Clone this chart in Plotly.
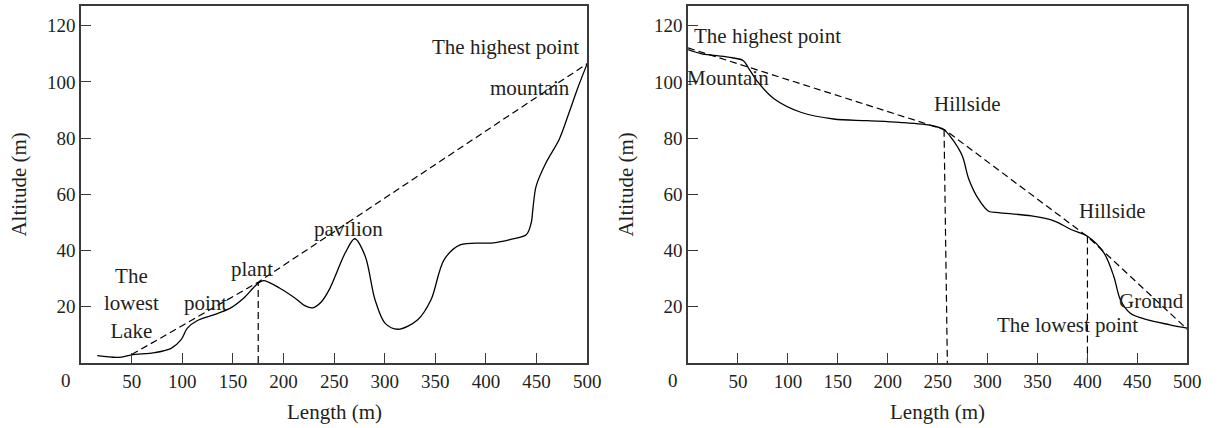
import plotly.graph_objects as go

# ---------------- data ----------------
# Left profile (lake -> mountain)
left_x = [16, 37, 50, 73, 89, 98.7, 105, 115, 131, 147.5, 160.5, 173.5, 180, 196, 212.5, 221, 228.7,
          237, 245, 261, 270.3, 280.7, 290.4, 300.2, 313, 332.6, 345.7, 358.7, 375, 407.4, 423.7, 440,
          444.7, 446.4, 449.6, 459.4, 472.4, 482.2, 490.3, 500]
left_y = [2.6, 2.0, 2.9, 3.7, 5.2, 8.2, 12.4, 15.1, 17.1, 19.5, 23, 27.9, 29.3, 26.7, 22.8, 20.4, 19.6,
          21.6, 26, 39.2, 44.2, 38, 22.5, 14.2, 12.0, 15.4, 22.5, 36.8, 42.1, 42.7, 43.9, 45.7,
          49.9, 55, 63, 71.3, 79.6, 89.2, 97.5, 106.5]
left_dash_x = [50, 176, 500]
left_dash_y = [3, 29, 106.5]
left_vert_x = [175, 175]
left_vert_y = [0, 28.7]

# Right profile (mountain -> ground)
right_x = [0, 13.9, 40.3, 55.1, 60.1, 70, 86.4, 112.9, 145.8, 178.9, 211.9, 244.9, 256.4, 264.7,
           274.6, 281.2, 291.1, 301, 310.9, 343.9, 367, 383.5, 400, 416.5, 426.4, 433, 442.9,
           459.4, 482.5, 500]
right_y = [111.5, 110, 108.8, 107.6, 105.2, 99.9, 93.9, 89.2, 86.8, 86.2, 85.6, 84.4, 83, 79.6,
           73.7, 65.4, 58.2, 54, 53.5, 52.3, 50.5, 47.5, 45.1, 39.2, 30.8, 22.5, 17.7,
           15.4, 13.6, 12.4]
right_dash_x = [0, 257, 400, 500]
right_dash_y = [112.1, 83, 45, 12]
right_vert1_x = [256.4, 259.7]
right_vert1_y = [83, 0]
right_vert2_x = [400, 400]
right_vert2_y = [45, 0]

x_ticks = [50, 100, 150, 200, 250, 300, 350, 400, 450, 500]
y_ticks = [20, 40, 60, 80, 100, 120]

left_labels = [("The<br>lowest<br>Lake", 50, 21.3), ("point", 123, 21.3), ("plant", 168.6, 33.6),
               ("pavilion", 264.4, 47.7), ("The highest point", 418.8, 112.4),
               ("mountain", 443.2, 97.7)]
right_labels = [("The highest point", 79.3, 116.5), ("Mountain", 39.9, 101.4),
                ("Hillside", 279.6, 92.1), ("Hillside", 424.8, 54.0),
                ("Ground", 464.4, 21.9), ("The lowest point", 380.2, 13.6)]

# ---------------- figure ----------------
FONT = "Liberation Serif"
TXT = "#231f20"
LBL = 21
fig = go.Figure()

solid = dict(color="black", width=1.3, shape="spline", smoothing=0.9)
dashed = dict(color="black", width=1.2, dash="7px,4px")

fig.add_trace(go.Scatter(x=left_x, y=left_y, mode="lines", line=solid, xaxis="x", yaxis="y"))
fig.add_trace(go.Scatter(x=left_dash_x, y=left_dash_y, mode="lines", line=dashed, xaxis="x", yaxis="y"))
fig.add_trace(go.Scatter(x=left_vert_x, y=left_vert_y, mode="lines", line=dashed, xaxis="x", yaxis="y"))

fig.add_trace(go.Scatter(x=right_x, y=right_y, mode="lines", line=solid, xaxis="x2", yaxis="y2"))
fig.add_trace(go.Scatter(x=right_dash_x, y=right_dash_y, mode="lines", line=dashed, xaxis="x2", yaxis="y2"))
fig.add_trace(go.Scatter(x=right_vert1_x, y=right_vert1_y, mode="lines", line=dashed, xaxis="x2", yaxis="y2"))
fig.add_trace(go.Scatter(x=right_vert2_x, y=right_vert2_y, mode="lines", line=dashed, xaxis="x2", yaxis="y2"))

axis_common = dict(showgrid=False, zeroline=False, showline=True, linecolor="#3a3a3a", linewidth=1.5,
                   mirror=True, ticks="inside", ticklen=10, tickwidth=1.3, tickcolor="#3a3a3a",
                   tickfont=dict(family=FONT, size=19, color=TXT))

fig.update_layout(
    width=1226, height=428,
    margin=dict(l=0, r=0, t=6, b=65),
    paper_bgcolor="white", plot_bgcolor="white",
    showlegend=False,
    xaxis=dict(domain=[82 / 1226, 594 / 1226], range=[0, 500], tickvals=x_ticks, anchor="y", **axis_common),
    yaxis=dict(domain=[0, 1], range=[0, 127], tickvals=y_ticks, anchor="x", **axis_common),
    xaxis2=dict(domain=[696 / 1226, 1201 / 1226], range=[0, 500], tickvals=x_ticks, anchor="y2", **axis_common),
    yaxis2=dict(domain=[0, 1], range=[0, 127], tickvals=y_ticks, anchor="x2", **axis_common),
)

annots = []
for txt, x, y in left_labels:
    annots.append(dict(text=txt, x=x, y=y, xref="x", yref="y", showarrow=False,
                       xanchor="center", yanchor="middle", font=dict(family=FONT, size=LBL, color=TXT)))
for txt, x, y in right_labels:
    annots.append(dict(text=txt, x=x, y=y, xref="x2", yref="y2", showarrow=False,
                       xanchor="center", yanchor="middle", font=dict(family=FONT, size=LBL, color=TXT)))

# origin "0" labels, axis titles
for xa, ya in (("x", "y"), ("x2", "y2")):
    annots.append(dict(text="0", x=0, y=0, xref=xa, yref=ya, showarrow=False, xanchor="center",
                       yanchor="middle", xshift=-15, yshift=-17,
                       font=dict(family=FONT, size=19, color=TXT)))
    annots.append(dict(text="Length (m)", x=250, y=0, xref=xa, yref=ya, showarrow=False,
                       xanchor="center", yanchor="middle", yshift=-49,
                       font=dict(family=FONT, size=LBL, color=TXT)))
    annots.append(dict(text="Altitude (m)", x=0, y=63.5, xref=xa, yref=ya, showarrow=False,
                       xanchor="center", yanchor="middle", xshift=-63, textangle=-90,
                       font=dict(family=FONT, size=LBL, color=TXT)))
fig.update_layout(annotations=annots)

fig.write_html("out.html")
